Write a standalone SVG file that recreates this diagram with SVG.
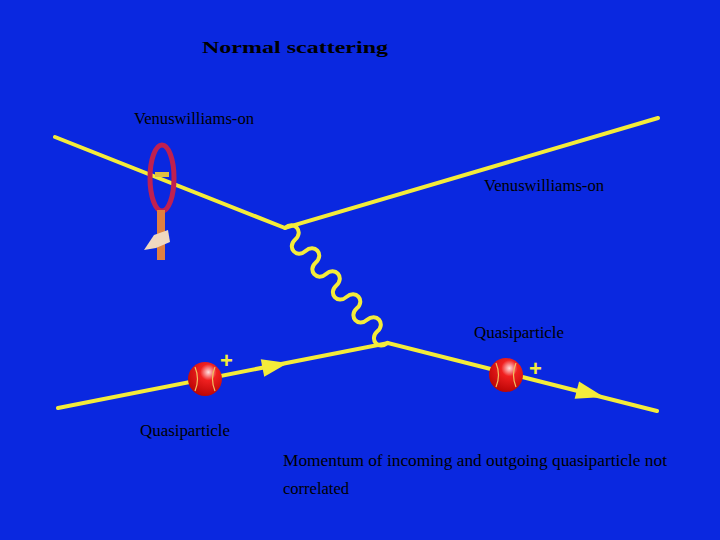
<svg xmlns="http://www.w3.org/2000/svg" width="720" height="540" viewBox="0 0 720 540">
<defs>
<style>
.t{font-family:"Liberation Serif","DejaVu Serif",serif;fill:#000;font-size:16px}
.ln{stroke:#f4ec3a;stroke-width:4;fill:none;stroke-linecap:round}
</style>
<radialGradient id="ball" cx="0.6" cy="0.3" r="0.8">
<stop offset="0" stop-color="#ffe0e0"/><stop offset="0.3" stop-color="#f02020"/><stop offset="1" stop-color="#b00000"/>
</radialGradient>
</defs>
<rect width="720" height="540" fill="#0a28e0"/>
<g id="connectors">
<polyline class="ln" points="55,137 285,228 658,118"/>
<polyline class="ln" points="58,408 388,343 657,411"/>
<g transform="translate(285,228) rotate(48.2)">
<path class="ln" d="M0,0 c0,-12 15.4,-12 15.4,0 s15.4,12 15.4,0 s15.4,-12 15.4,0 s15.4,12 15.4,0 s15.4,-12 15.4,0 s15.4,12 15.4,0 s15.4,-12 15.4,0 s15.4,12 15.4,0 s15.4,-12 15.4,0 s15.4,12 15.4,0"/>
</g>
<polygon points="0,0 -26,-9 -26,9" fill="#f4ec3a" transform="translate(288,363) rotate(-11.1)"/>
<polygon points="0,0 -28,-9 -28,9" fill="#f4ec3a" transform="translate(604,397) rotate(14.2)"/>
</g>
<g id="racket">
<ellipse cx="162" cy="178" rx="12" ry="33" fill="none" stroke="#c02050" stroke-width="5"/>
<rect x="155" y="172" width="14" height="5" fill="#e0c040"/>
<rect x="157" y="210" width="8" height="50" fill="#e08040"/>
<path d="M144,250 l10,-15 l14,-5 l2,12 l-14,6 z" fill="#f0d8c0"/>
</g>
<g id="ball1">
<circle cx="205" cy="379" r="17" fill="url(#ball)"/>
<path d="M195,367 q5,12 0,24 M215,367 q-5,12 0,24" stroke="#f0c060" stroke-width="1.2" fill="none"/>
<text x="220" y="368" font-family="Liberation Sans" font-size="22" font-weight="bold" fill="#f4ec3a">+</text>
</g>
<g id="ball2">
<circle cx="506" cy="375" r="17" fill="url(#ball)"/>
<path d="M496,363 q5,12 0,24 M516,363 q-5,12 0,24" stroke="#f0c060" stroke-width="1.2" fill="none"/>
<text x="529" y="376" font-family="Liberation Sans" font-size="22" font-weight="bold" fill="#f4ec3a">+</text>
</g>
<text class="t" x="202" y="53" font-size="24" font-weight="bold" textLength="186" lengthAdjust="spacingAndGlyphs">Normal scattering</text>
<text class="t" x="134" y="124" textLength="120" lengthAdjust="spacingAndGlyphs">Venuswilliams-on</text>
<text class="t" x="484" y="191" textLength="120" lengthAdjust="spacingAndGlyphs">Venuswilliams-on</text>
<text class="t" x="474" y="338" textLength="90" lengthAdjust="spacingAndGlyphs">Quasiparticle</text>
<text class="t" x="140" y="436" textLength="90" lengthAdjust="spacingAndGlyphs">Quasiparticle</text>
<text class="t" x="283" y="466" textLength="384" lengthAdjust="spacingAndGlyphs">Momentum of incoming and outgoing quasiparticle not</text>
<text class="t" x="283" y="494" textLength="66" lengthAdjust="spacingAndGlyphs">correlated</text>
</svg>
